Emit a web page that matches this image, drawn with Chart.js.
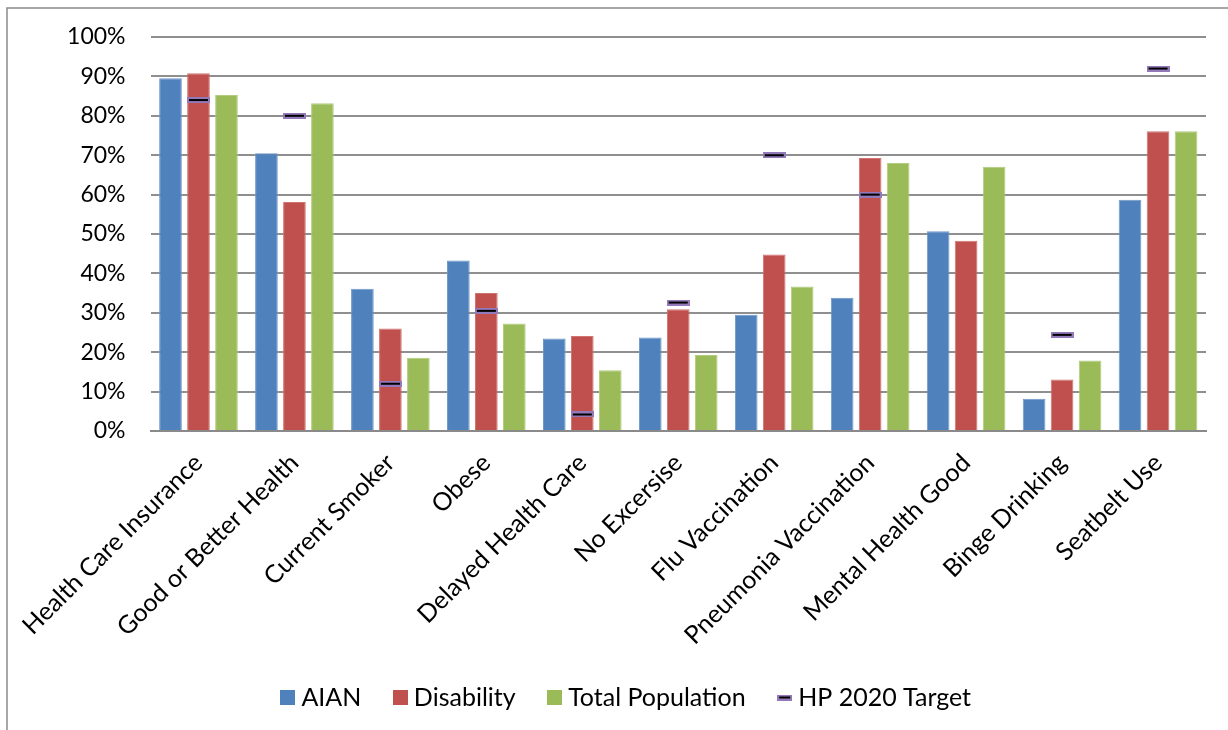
<!DOCTYPE html>
<html>
<head>
<meta charset="utf-8">
<script src="https://cdn.jsdelivr.net/npm/chart.js@4.4.1/dist/chart.umd.min.js"></script>
<style>
html,body{margin:0;padding:0;background:#fff;}
#wrap{position:relative;width:1228px;height:730px;}
</style>
</head>
<body>
<div id="wrap"><canvas id="c" width="1228" height="730"></canvas></div>
<script>
// ---- data ----
const categories = ["Health Care Insurance", "Good or Better Health", "Current Smoker", "Obese",
  "Delayed Health Care", "No Excersise", "Flu Vaccination", "Pneumonia Vaccination",
  "Mental Health Good", "Binge Drinking", "Seatbelt Use"];
const seriesNames = ["AIAN", "Disability", "Total Population", "HP 2020 Target"];
const aian       = [89.5, 70.5, 36.1, 43.3, 23.5, 23.7, 29.5, 33.8, 50.7, 8.2, 58.7];
const disability = [90.8, 58.1, 26.0, 35.0, 24.1, 30.9, 44.8, 69.3, 48.3, 13.1, 76.1];
const totalPop   = [85.3, 83.2, 18.6, 27.3, 15.4, 19.3, 36.7, 68.0, 67.1, 17.9, 76.1];
const hp2020     = [84, 80, 12, 30.5, 4.2, 32.6, 70, 60, null, 24.4, 92];
const yTickValues = [0, 10, 20, 30, 40, 50, 60, 70, 80, 90, 100];

// ---- styles ----
const FONT = "Lato, 'Liberation Sans', sans-serif";
const FS_Y = 23;
const FS = 25;
const colors = ["#4F81BD", "#C0504D", "#9BBB59"];
const borders = ["#7197c8", "#cf7471", "#b1cc7f"];

function makeDash(w, h) {
  const c = document.createElement('canvas');
  c.width = w; c.height = h;
  const g = c.getContext('2d');
  g.fillStyle = '#9379ba';
  g.fillRect(0, 0, w, h);
  g.fillStyle = '#000';
  g.fillRect(2, 2, w - 4, h - 4);
  return c;
}
function makeSquare(color, s) {
  const c = document.createElement('canvas');
  c.width = s; c.height = s;
  const g = c.getContext('2d');
  g.fillStyle = color;
  g.fillRect(0, 0, s, s);
  return c;
}
const targetMarker = makeDash(23, 6);
const legendIcons = [makeSquare(colors[0], 15), makeSquare(colors[1], 15), makeSquare(colors[2], 15), makeDash(15, 6)];

Chart.defaults.font.family = FONT;
Chart.defaults.font.size = FS;
Chart.defaults.color = '#000';

const framePlugin = {
  id: 'frame',
  afterDraw(chart) {
    const ctx = chart.ctx;
    ctx.save();
    ctx.strokeStyle = '#8a8a8a';
    ctx.lineWidth = 1.5;
    ctx.beginPath();
    ctx.moveTo(7, 730);
    ctx.lineTo(7, 8);
    ctx.lineTo(1228, 8);
    ctx.stroke();
    ctx.restore();
  }
};

const datasets = [
  { type: 'line', label: seriesNames[3], data: hp2020, showLine: false,
    pointStyle: targetMarker, pointRadius: 6, order: 0 },
  { type: 'bar', label: seriesNames[0], data: aian, backgroundColor: colors[0], borderColor: borders[0], borderWidth: 1, order: 1 },
  { type: 'bar', label: seriesNames[1], data: disability, backgroundColor: colors[1], borderColor: borders[1], borderWidth: 1, order: 1 },
  { type: 'bar', label: seriesNames[2], data: totalPop, backgroundColor: colors[2], borderColor: borders[2], borderWidth: 1, order: 1 }
];

new Chart(document.getElementById('c'), {
  type: 'bar',
  data: { labels: categories, datasets: datasets },
  options: {
    responsive: false,
    animation: false,
    events: [],
    datasets: { bar: { categoryPercentage: 0.875, barPercentage: 0.81 } },
    layout: { padding: { top: 37, left: 52, right: 22, bottom: 10 } },
    plugins: {
      tooltip: { enabled: false },
      legend: {
        position: 'bottom',
        labels: {
          usePointStyle: true,
          pointStyleWidth: 2,
          padding: 38,
          font: { size: FS, family: FONT },
          color: '#000',
          generateLabels: () => [0, 1, 2, 3].map(i => ({
            text: seriesNames[i],
            pointStyle: legendIcons[i],
            fillStyle: 'transparent',
            strokeStyle: 'transparent',
            lineWidth: 0,
            hidden: false,
            fontColor: '#000',
            datasetIndex: i === 3 ? 0 : i + 1
          }))
        }
      }
    },
    scales: {
      x: {
        type: 'category',
        offset: true,
        grid: { display: false, drawTicks: false },
        border: { display: true, color: '#8a8a8a', width: 2 },
        ticks: { autoSkip: false, maxRotation: 45, minRotation: 45, padding: 17, color: '#000',
                 font: { size: FS, family: FONT } },
        afterFit(scale) { scale.height = 216; scale.paddingLeft = 0; scale.paddingRight = 0; }
      },
      y: {
        min: 0, max: 100,
        afterBuildTicks(scale) { scale.ticks = yTickValues.map(v => ({ value: v })); },
        ticks: { callback: v => v + '%', padding: 25, color: '#000', font: { size: FS_Y, family: FONT } },
        grid: { color: '#8f8f8f', lineWidth: 2, drawTicks: false },
        border: { display: false },
        afterFit(scale) { scale.width = 98.5; scale.paddingTop = 0; scale.paddingBottom = 0; }
      }
    }
  },
  plugins: [framePlugin]
});
</script>
</body>
</html>
